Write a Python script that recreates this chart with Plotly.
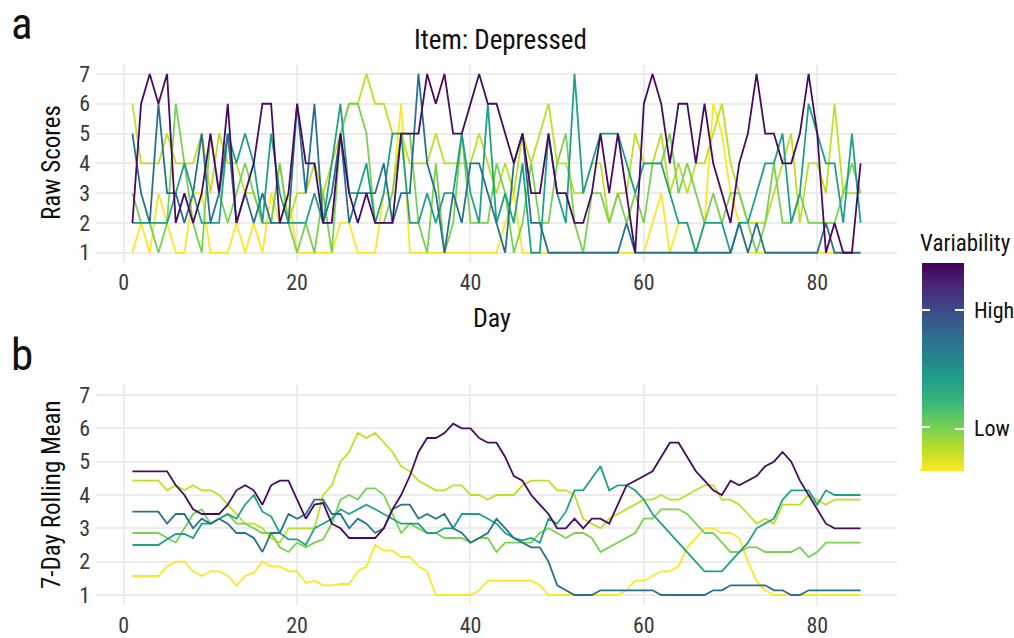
import plotly.graph_objects as go

# ---------------- data ----------------
days = list(range(1, 86))

series_order = ["S6", "S5", "S4", "S3", "S2", "S1"]  # low -> high variability (draw order)
line_colors = {
    "S1": "#460b5e",  # highest variability (purple)
    "S2": "#27708e",  # blue
    "S3": "#1fa187",  # teal
    "S4": "#7ad151",  # green
    "S5": "#bddf26",  # lime
    "S6": "#fde725",  # lowest variability (yellow)
}

raw_s1 = [2,6,7,6,7,2,3,2,3,5, 3,6,2,3,4,6,6,2,3,6, 4,4,2,2,5,3,2,3,2,2,
          2,5,5,5,7,6,7,5,5,6, 7,6,6,5,4,5,3,3,5,3, 3,2,2,3,5,3,5,3,1,6,
          7,6,4,6,6,4,6,4,3,2, 4,5,7,5,5,4,4,5,7,5, 1,2,1,1,4]
raw_s2 = [5,3,2,6,3,3,2,3,5,2, 3,5,2,3,2,3,2,2,2,6, 3,6,2,3,5,2,3,3,3,4,
          2,3,3,7,4,3,1,3,2,4, 4,3,2,1,4,5,2,2,1,1, 1,1,1,1,1,1,1,2,1,1,
          1,1,1,1,1,1,1,1,1,1, 2,1,2,1,1,1,1,1,1,1, 2,1,1,1,1]
raw_s3 = [2,2,2,2,2,3,4,3,2,2, 2,5,4,5,4,2,5,3,2,2, 2,3,2,4,6,3,3,4,2,3,
          5,5,2,2,3,2,3,3,5,3, 2,6,2,3,2,4,1,1,5,3, 2,7,3,4,5,5,5,4,3,4,
          4,4,3,2,2,1,2,2,2,1, 2,2,3,4,4,5,2,3,6,5, 4,4,2,5,2]
raw_s4 = [3,2,2,1,2,6,4,2,1,5, 3,2,3,4,3,2,2,4,2,1, 2,1,3,1,5,6,6,5,2,2,
          3,5,5,2,1,4,1,2,5,2, 2,2,4,3,1,2,4,2,2,4, 5,2,1,3,3,2,3,2,3,2,
          4,4,5,3,4,3,2,3,2,3, 3,2,1,2,4,2,2,3,2,2, 2,2,3,4,3]
raw_s5 = [6,4,4,4,5,4,4,4,5,3, 5,4,4,3,3,2,2,4,2,3, 3,4,3,4,5,6,6,7,6,6,
          5,5,4,4,4,5,4,4,4,4, 5,4,3,4,3,5,4,5,6,4, 4,3,3,4,4,2,3,3,5,4,
          4,5,3,4,3,4,4,5,6,4, 3,2,2,2,3,4,5,2,4,4, 3,6,3,3,3]
raw_s6 = [1,2,1,3,2,1,1,3,3,1, 1,1,2,1,2,1,3,2,3,1, 1,1,1,1,2,2,1,1,1,3,
          3,6,1,1,1,1,1,1,1,1, 1,1,1,2,3,1,1,1,1,1, 1,1,1,1,1,1,1,1,1,1,
          2,3,1,2,2,1,2,6,5,3, 2,1,1,1,1,1,1,1,1,1, 1,1,1,1,1]

roll_s1 = [4.71,4.71,4.71,4.71,4.71,4.29,4.0,3.57,3.43,3.43,
           3.43,3.71,4.14,4.29,4.14,3.71,4.29,4.43,4.43,3.86,
           3.29,3.71,3.76,3.14,3.0,2.71,2.71,2.71,2.71,3.0,
           3.57,4.0,4.57,5.29,5.71,5.71,5.86,6.14,6.0,6.0,
           5.71,5.57,5.57,5.14,4.57,4.43,4.0,3.71,3.43,3.0,
           3.0,3.29,3.0,3.29,3.29,3.14,3.71,4.29,4.43,4.57,
           4.71,5.14,5.57,5.57,5.14,4.71,4.43,4.14,4.0,4.43,
           4.29,4.43,4.57,4.86,5.0,5.29,5.0,4.43,4.0,3.57,
           3.14,3.0,3.0,3.0,3.0]
roll_s2 = [3.5,3.5,3.5,3.5,3.14,3.43,3.43,3.0,3.29,3.14,
           3.29,3.14,2.86,2.86,2.71,2.29,2.86,2.86,3.43,3.29,
           3.43,3.86,3.86,3.43,3.43,3.0,3.29,3.14,2.86,3.0,
           3.57,3.71,3.71,3.29,3.43,3.29,3.43,3.0,2.86,2.57,
           2.71,2.86,3.29,3.0,2.71,2.57,2.43,2.43,2.0,1.29,
           1.14,1.0,1.0,1.0,1.14,1.14,1.14,1.14,1.14,1.14,
           1.14,1.0,1.0,1.0,1.0,1.0,1.0,1.14,1.14,1.29,
           1.29,1.29,1.29,1.29,1.14,1.14,1.0,1.0,1.14,1.14,
           1.14,1.14,1.14,1.14,1.14]
roll_s3 = [2.5,2.5,2.5,2.5,2.67,2.83,2.83,2.71,3.14,3.14,
           3.29,3.43,3.29,3.71,4.0,3.5,3.36,2.86,2.67,2.67,
           2.5,3.0,3.14,3.29,3.57,3.43,3.57,3.71,3.57,3.43,
           3.29,3.14,3.14,3.14,2.86,2.86,3.0,3.0,3.43,3.43,
           3.43,3.29,3.14,2.86,2.71,2.64,2.71,2.57,3.29,3.14,
           3.5,4.14,4.14,4.5,4.86,4.14,4.29,4.29,4.14,3.86,
           3.43,3.14,2.86,2.57,2.29,2.0,1.71,1.71,1.71,2.0,
           2.29,2.57,3.0,3.14,3.29,3.86,4.14,4.14,4.14,3.71,
           4.14,4.0,4.0,4.0,4.0]
roll_s4 = [2.86,2.86,2.86,2.86,2.71,2.57,3.0,3.43,3.57,3.14,
           3.29,3.43,3.14,3.14,3.0,2.86,2.86,2.43,2.29,2.57,
           2.43,2.57,2.67,3.14,3.86,4.0,3.86,4.2,4.2,4.0,
           3.43,2.86,3.14,3.0,2.86,2.86,2.71,2.71,2.71,2.57,
           2.71,2.71,2.29,2.57,2.57,2.57,2.57,2.86,3.0,2.86,
           2.71,2.86,2.86,2.71,2.29,2.43,2.57,2.71,2.86,3.29,
           3.29,3.57,3.57,3.57,3.43,3.14,2.86,2.86,2.57,2.29,
           2.29,2.43,2.43,2.29,2.29,2.29,2.29,2.43,2.14,2.29,
           2.57,2.57,2.57,2.57,2.57]
roll_s5 = [4.43,4.43,4.43,4.43,4.14,4.29,4.14,4.29,4.14,4.14,
           4.0,3.71,3.43,3.14,3.14,3.0,2.71,2.57,3.0,3.0,
           3.0,3.0,4.0,4.29,5.0,5.29,5.86,5.71,5.86,5.57,
           5.29,4.86,4.71,4.43,4.29,4.14,4.14,4.29,4.29,4.0,
           4.0,3.86,4.0,4.0,4.0,4.29,4.43,4.43,4.43,4.14,
           4.14,4.0,3.29,3.14,3.0,3.29,3.43,3.57,3.71,3.86,
           3.86,4.0,3.86,3.86,4.0,4.14,4.29,4.29,3.86,3.86,
           3.71,3.43,3.14,3.29,3.14,3.71,3.71,3.71,4.0,3.86,
           3.71,3.86,3.86,3.86,3.86]
roll_s6 = [1.57,1.57,1.57,1.57,1.86,2.0,2.0,1.71,1.57,1.71,
           1.71,1.57,1.29,1.57,1.67,2.0,1.86,1.86,1.71,1.71,
           1.36,1.43,1.29,1.29,1.33,1.33,1.71,1.86,2.5,2.33,
           2.33,2.14,2.14,1.86,1.71,1.0,1.0,1.0,1.0,1.0,
           1.14,1.43,1.43,1.43,1.43,1.43,1.43,1.29,1.0,1.0,
           1.0,1.0,1.0,1.0,1.0,1.0,1.0,1.14,1.43,1.43,
           1.57,1.71,1.71,1.86,2.43,2.71,3.0,3.0,2.86,2.86,
           2.71,2.0,1.43,1.14,1.0,1.0,1.0,1.0,1.0,1.0,
           1.0,1.0,1.0,1.0,1.0]

raw = {"S1": raw_s1, "S2": raw_s2, "S3": raw_s3, "S4": raw_s4, "S5": raw_s5, "S6": raw_s6}
roll = {"S1": roll_s1, "S2": roll_s2, "S3": roll_s3, "S4": roll_s4, "S5": roll_s5, "S6": roll_s6}

x_ticks = [0, 20, 40, 60, 80]
y_ticks = [1, 2, 3, 4, 5, 6, 7]
legend_ticks = [0.204, 0.772]
legend_labels = ["\u00a0Low", "\u00a0High"]

# ---------------- layout geometry ----------------
W, H = 1014, 638
L, R, T, B = 96, 117, 65, 33
PW, PH = W - L - R, H - T - B


def px_x(x):
    return (x - L) / PW


def px_y(y):
    return (H - B - y) / PH


FONT = "Liberation Sans Narrow, Arial Narrow, Roboto Condensed, Liberation Sans, sans-serif"
TICK_COLOR = "#3b3b3b"
GRID = "#ECECEF"

fig = go.Figure()

for s in series_order:
    fig.add_trace(go.Scatter(x=days, y=raw[s], mode="lines", xaxis="x", yaxis="y",
                             line=dict(color=line_colors[s], width=1.8), showlegend=False,
                             hoverinfo="skip"))
for s in series_order:
    fig.add_trace(go.Scatter(x=days, y=roll[s], mode="lines", xaxis="x2", yaxis="y2",
                             line=dict(color=line_colors[s], width=1.8), showlegend=False,
                             hoverinfo="skip"))

# colour bar
fig.add_trace(go.Scatter(
    x=[None], y=[None], mode="markers", xaxis="x", yaxis="y", showlegend=False,
    marker=dict(color=[0.5], colorscale="Viridis", reversescale=True, cmin=0, cmax=1,
                showscale=True,
                colorbar=dict(
                    title=dict(text="Variability", side="top",
                               font=dict(family=FONT, size=23, color="#111")),
                    thickness=44, len=240, lenmode="pixels",
                    x=px_x(920), xanchor="left", xpad=0,
                    y=px_y(471), yanchor="bottom", ypad=0,
                    outlinewidth=0,
                    tickvals=legend_ticks, ticktext=legend_labels,
                    ticks="inside", ticklen=9, tickcolor="white", tickwidth=1.5,
                    tickfont=dict(family=FONT, size=22, color="#111"),
                ))))

# left-edge white tick marks of the colour bar (thin white helper bar with outside ticks)
fig.add_trace(go.Scatter(
    x=[None], y=[None], mode="markers", xaxis="x", yaxis="y", showlegend=False,
    marker=dict(color=[0.5], colorscale=[[0, "white"], [1, "white"]], cmin=0, cmax=1,
                showscale=True,
                colorbar=dict(
                    thickness=0.5, len=206, lenmode="pixels",
                    x=px_x(919.5), xanchor="left", xpad=0,
                    y=px_y(469), yanchor="bottom", ypad=0,
                    outlinewidth=0,
                    tickvals=legend_ticks, ticktext=["", ""],
                    ticks="outside", ticklen=9, tickcolor="white", tickwidth=1.5,
                    tickfont=dict(family=FONT, size=2, color="white"),
                ))))

axis_common = dict(showline=False, zeroline=False, ticks="", showgrid=True,
                   gridcolor=GRID, gridwidth=1.5, ticklabelstandoff=5,
                   tickfont=dict(family=FONT, size=22, color=TICK_COLOR))

fig.update_layout(
    width=W, height=H,
    margin=dict(l=L, r=R, t=T, b=B, pad=0, autoexpand=False),
    paper_bgcolor="white", plot_bgcolor="white",
    font=dict(family=FONT, color="#111"),
    xaxis=dict(domain=[0, 1], range=[-3.2, 89.2], tickvals=x_ticks, anchor="y", **axis_common),
    yaxis=dict(domain=[px_y(261.7), 1], range=[0.7, 7.3], tickvals=y_ticks, anchor="x", **axis_common),
    xaxis2=dict(domain=[0, 1], range=[-3.2, 89.2], tickvals=x_ticks, anchor="y2", **axis_common),
    yaxis2=dict(domain=[0, px_y(385)], range=[0.7, 7.3], tickvals=y_ticks, anchor="x2", **axis_common),
)

ann = [
    dict(text="a", x=px_x(22), y=px_y(24), font=dict(size=45, family=FONT, color="#111")),
    dict(text="b", x=px_x(22), y=px_y(354), font=dict(size=45, family=FONT, color="#111")),
    dict(text="Item: Depressed", x=px_x(500), y=px_y(40), font=dict(size=27, family=FONT, color="#111")),
    dict(text="Day", x=px_x(492), y=px_y(318), font=dict(size=26, family=FONT, color="#111")),
    dict(text="Raw Scores", x=px_x(51), y=px_y(163), textangle=-90,
         font=dict(size=25, family=FONT, color="#111")),
    dict(text="7-Day Rolling Mean", x=px_x(51), y=px_y(495), textangle=-90,
         font=dict(size=25, family=FONT, color="#111")),
]
for a in ann:
    a.update(xref="paper", yref="paper", showarrow=False, xanchor="center", yanchor="middle")
fig.update_layout(annotations=ann)

fig.write_html("out.html")
